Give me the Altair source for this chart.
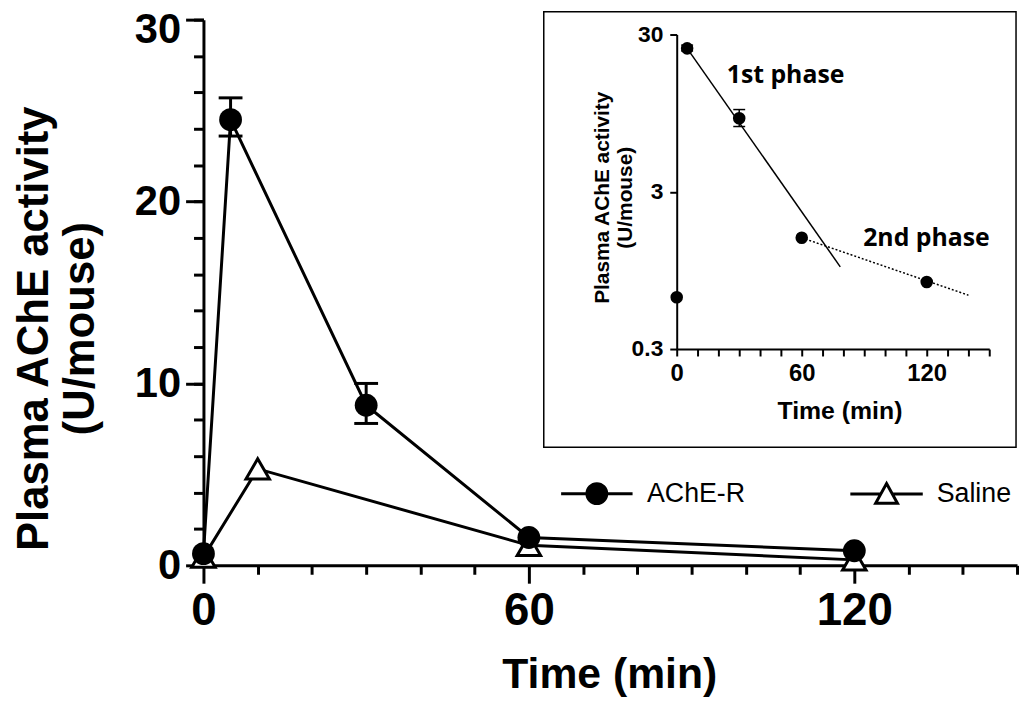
import altair as alt
import pandas as pd

# ---------------- data ----------------
series_names = ["AChE-R", "Saline"]
acher_t = [0, 5, 30, 60, 120]
acher_v = [0.64, 24.5, 8.8, 1.53, 0.8]
saline_t = [0, 10, 60, 120]
saline_v = [0.45, 5.3, 1.1, 0.3]
err_t = [5, 30]
err_lo = [23.6, 7.8]
err_hi = [25.7, 10.0]
phase1_t = [5, 78.5]
phase1_v = [24.5, 1.0]
phase2_t = [60, 140]
phase2_v = [1.53, 0.66]
x_ticks = list(range(0, 151, 10))
y_major_ticks = [0, 10, 20, 30]
y_minor_ticks = list(range(0, 31, 2))
inset_y_ticks = [0.3, 3, 30]
phase_labels = ["1st phase", "2nd phase"]
phase_label_t = [24, 89.5]
phase_label_v = [14.7, 1.36]

BOLD = "Liberation Sans"

df_main = pd.DataFrame({
    "t": acher_t + saline_t,
    "v": acher_v + saline_v,
    "series": [series_names[0]] * len(acher_t) + [series_names[1]] * len(saline_t),
})
df_err = pd.DataFrame({"t": err_t, "v": err_lo, "v2": err_hi})
df_cap = pd.DataFrame({"t": err_t + err_t, "v": err_lo + err_hi})
df_acher = pd.DataFrame({"t": acher_t, "v": acher_v})
df_fit1 = pd.DataFrame({"t": phase1_t, "v": phase1_v})
df_fit2 = pd.DataFrame({"t": phase2_t, "v": phase2_v})
df_lab = pd.DataFrame({"t": phase_label_t, "v": phase_label_v, "txt": phase_labels})

# ---------------- main panel ----------------
x_main = alt.X(
    "t:Q",
    scale=alt.Scale(domain=[0, 150], nice=False, zero=False),
    axis=alt.Axis(
        orient="bottom",
        values=x_ticks,
        labelExpr="datum.value % 60 === 0 ? datum.label : ''",
        tickSize={"condition": {"test": "datum.value % 60 === 0", "value": 18}, "value": 9},
        tickWidth=3, domainWidth=3, domainColor="black", tickColor="black", grid=False,
        labelFont=BOLD, labelFontSize=46, labelFontWeight="bold", labelColor="black",
        labelPadding=6, labelFlush=False, labelOverlap=False,
        title="Time (min)", titleFont=BOLD, titleFontSize=43, titleFontWeight="bold",
        titleColor="black", titleX=409, titleY=123, titleAlign="center",
        titleBaseline="alphabetic",
    ),
)
y_main = alt.Y(
    "v:Q",
    scale=alt.Scale(domain=[0, 30], nice=False, zero=True),
    axis=alt.Axis(
        orient="left",
        values=y_major_ticks,
        tickSize=18, tickWidth=3, domainWidth=3, domainColor="black", tickColor="black",
        grid=False, labelFont=BOLD, labelFontSize=42, labelFontWeight="bold",
        labelColor="black", labelPadding=5, labelFlush=False, labelOverlap=False,
        labelOffset={"condition": {"test": "datum.value === 30", "value": 10}, "value": 0},
        title=["Plasma AChE activity", "(U/mouse)"], titleFont=BOLD, titleFontSize=44,
        titleFontWeight="bold", titleColor="black", titleAngle=-90, titleX=-148, titleY=311,
        titleAlign="center", titleBaseline="bottom", titleLineHeight=46,
    ),
)

lines = alt.Chart(df_main).mark_line(color="black", strokeWidth=3).encode(
    x=x_main, y=y_main, detail="series:N", order="t:Q"
)
err_rule = alt.Chart(df_err).mark_rule(color="black", strokeWidth=3).encode(
    x="t:Q", y="v:Q", y2="v2:Q"
)
err_cap = alt.Chart(df_cap).mark_tick(
    orient="horizontal", size=24, thickness=3, color="black", opacity=1
).encode(x="t:Q", y="v:Q")
pts_saline = alt.Chart(df_main).transform_filter(
    alt.datum.series == series_names[1]
).mark_point(
    shape="triangle-up", size=560, filled=True, fill="white", stroke="black",
    strokeWidth=3, opacity=1,
).encode(x="t:Q", y="v:Q")
pts_acher = alt.Chart(df_main).transform_filter(
    alt.datum.series == series_names[0]
).mark_circle(size=529, color="black", opacity=1).encode(x="t:Q", y="v:Q")

path_circle = "M-3.6,0H3.6M-1,0A1,1,0,1,0,1,0A1,1,0,1,0,-1,0Z"
path_tri = "M-3.65,0H-0.58M0.58,0H3.65M0,-1.05L1.1,0.95L-1.1,0.95Z"
legend = alt.Legend(
    title=None, orient="none", legendX=383, legendY=464, direction="horizontal",
    symbolSize=400, symbolStrokeWidth=3, symbolStrokeColor="black", symbolOpacity=1,
    labelFont=BOLD, labelFontSize=27, labelColor="black", labelOffset=37,
    columnPadding=99, labelLimit=0,
)
leg_layer = alt.Chart(df_main).mark_point(
    opacity=0, strokeWidth=3
).encode(
    x="t:Q", y="v:Q",
    shape=alt.Shape("series:N", scale=alt.Scale(domain=series_names, range=[path_circle, path_tri]),
                    legend=legend),
    fill=alt.Fill("series:N", scale=alt.Scale(domain=series_names, range=["black", "white"]),
                  legend=legend),
    stroke=alt.Stroke("series:N", scale=alt.Scale(domain=series_names, range=["black", "black"]),
                      legend=legend),
)

main_group = alt.layer(lines, err_rule, err_cap, pts_saline, pts_acher, leg_layer)

# minor ticks of the main y axis (second axis on an identical scale)
minor_group = alt.layer(
    alt.Chart(df_main).mark_point(opacity=0).encode(
        x=alt.X("t:Q", scale=alt.Scale(domain=[0, 150], nice=False, zero=False), axis=None),
        y=alt.Y(
            "v:Q",
            scale=alt.Scale(domain=[0, 30], nice=False, zero=True),
            axis=alt.Axis(
                orient="left", values=y_minor_ticks, tickSize=10, tickWidth=3,
                tickColor="black", labels=False, domain=False, grid=False, title=None,
            ),
        ),
    )
)

# ---------------- inset ----------------
x_in = alt.X(
    "t:Q",
    scale=alt.Scale(domain=[0, 150], range=[477, 792], nice=False, zero=False),
    axis=alt.Axis(
        orient="bottom", offset=-218, zindex=1,
        values=x_ticks,
        labelExpr="datum.value % 60 === 0 ? datum.label : ''",
        tickSize=7, tickWidth=2, domainWidth=2, domainColor="black", tickColor="black",
        grid=False, labelFont=BOLD, labelFontSize=24, labelFontWeight="bold",
        labelColor="black", labelPadding=6, labelFlush=False, labelOverlap=False,
        title="Time (min)", titleFont=BOLD, titleFontSize=25, titleFontWeight="bold",
        titleColor="black", titleX=641, titleY=70, titleAlign="center",
        titleBaseline="alphabetic",
    ),
)
y_in = alt.Y(
    "v:Q",
    scale=alt.Scale(type="log", domain=[0.3, 30], range=[332, 15], nice=False),
    axis=alt.Axis(
        orient="left", offset=-477, zindex=1,
        values=inset_y_ticks, format="~g",
        tickSize=7, tickWidth=2, domainWidth=2, domainColor="black", tickColor="black",
        grid=False, labelFont=BOLD, labelFontSize=23, labelFontWeight="bold",
        labelColor="black", labelPadding=7, labelFlush=False, labelOverlap=False,
        title=["Plasma AChE activity", "(U/mouse)"], titleFont=BOLD, titleFontSize=21,
        titleFontWeight="bold", titleColor="black", titleAngle=-90, titleX=-65,
        titleY=179, titleAlign="center", titleBaseline="bottom", titleLineHeight=23,
    ),
)

box = alt.Chart(pd.DataFrame({"k": [0]})).mark_rect(
    fill="white", stroke="black", strokeWidth=1.5
).encode(x=alt.value(343), x2=alt.value(819), y=alt.value(-8), y2=alt.value(431))

fit1 = alt.Chart(df_fit1).mark_line(color="black", strokeWidth=1.5).encode(x=x_in, y=y_in)
fit2 = alt.Chart(df_fit2).mark_line(color="black", strokeWidth=1.5, strokeDash=[2, 2]).encode(
    x="t:Q", y="v:Q"
)
in_err = alt.Chart(df_err).mark_rule(color="black", strokeWidth=1.5).encode(
    x="t:Q", y="v:Q", y2="v2:Q"
)
in_cap = alt.Chart(df_cap).mark_tick(
    orient="horizontal", size=12, thickness=1.5, color="black", opacity=1
).encode(x="t:Q", y="v:Q")
in_pts = alt.Chart(df_acher).mark_circle(size=160, color="black", opacity=1).encode(
    x="t:Q", y="v:Q"
)
in_text = alt.Chart(df_lab).mark_text(
    font="Open Sans", fontWeight="bold", fontSize=25, align="left",
    baseline="alphabetic", color="black",
).encode(x="t:Q", y="v:Q", text="txt:N")

inset_group = alt.layer(box, fit1, fit2, in_err, in_cap, in_pts, in_text)

chart = alt.layer(minor_group, main_group, inset_group).resolve_scale(
    x="independent", y="independent"
).properties(
    width=820, height=550,
    autosize=alt.AutoSizeParams(type="none"),
    padding={"left": 197, "top": 9, "right": 3, "bottom": 133},
).configure_view(stroke=None)

chart.save("out.html", embed_options={"renderer": "svg", "actions": False})
